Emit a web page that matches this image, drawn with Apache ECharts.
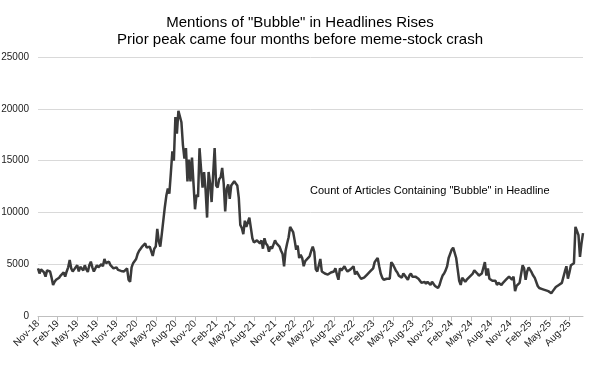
<!DOCTYPE html>
<html>
<head>
<meta charset="utf-8">
<script src="https://cdn.jsdelivr.net/npm/echarts@6/dist/echarts.min.js"></script>
<style>
html,body{margin:0;padding:0;background:#fff;}
#chart{width:600px;height:384px;}
</style>
</head>
<body>
<div id="chart"></div>
<script>
// Weekly counts of articles containing "Bubble" in headline, starting week of 2018-11-04
const startYear = 2018, startMonth = 10, startDay = 4;
const counts = [
  4600,4100,4500,4600,4200,3800,4400,4400,4300,3700,3000,3300,3500,
  3650,3700,3900,3750,4200,3800,4300,4700,5400,4600,4300,4500,4700,
  4900,4300,4750,4600,4400,4900,4500,4250,4900,5250,4700,4300,4600,
  4900,4700,4600,5000,4800,5500,5100,5100,5250,4900,4800,4600,4750,
  4700,4450,4500,4350,4450,4300,4250,4600,3500,3300,4700,5100,5200,
  5500,6000,6300,6500,6700,6800,7000,6600,6500,6700,6600,5800,6500,
  6700,8400,7200,6700,7900,8000,10500,11600,12300,11800,13800,15900,15000,
  19200,17600,19800,19900,18700,16500,15200,16200,13000,15100,13000,15300,12800,
  10300,11700,11500,16200,14200,12400,13900,12200,9500,13900,12800,11000,10900,
  16200,12600,12400,13200,13400,14300,12800,10100,12300,12700,11300,12600,12700,
  13000,12800,12600,11400,8800,8500,7900,9200,8600,8500,9500,8500,7500,
  7100,7000,7300,7200,7000,7300,6500,7500,7000,6800,6200,6700,6500,
  6400,7300,7000,7000,6700,6300,6000,4800,6300,7000,7600,8600,8500,
  8100,7300,6400,6800,5600,5900,5600,4800,5300,5200,5600,5800,6300,
  6700,6200,4500,4300,4400,5500,4300,4200,4100,4000,4000,4100,4200,
  4300,4300,4600,4000,3500,4600,4400,4300,4800,4500,4300,4400,4500,
  4600,4800,4000,4300,4200,3800,3600,3500,3700,3800,4000,4100,4300,
  4400,4600,5200,5400,5600,4800,4100,3700,3500,3600,3600,3500,3600,
  5200,5000,4700,4400,4200,3900,4000,3700,4100,3900,3700,3500,3900,
  4100,3800,3700,3800,3700,3600,3700,3200,3300,3300,3100,3300,3400,
  3000,3300,3300,2900,2800,2700,3000,3500,3900,4100,4400,4800,5600,
  6000,6400,6600,6600,5600,4500,3400,3000,3700,3600,3300,3500,3600,
  3800,3900,4100,4400,4300,4100,3900,4000,4100,4100,5200,3900,4600,
  3600,3500,3400,3300,3400,3000,3200,3100,3000,3200,3300,3500,3600,
  3800,3700,3500,3800,2400,2900,3000,3200,3300,4900,4600,3500,4300,
  4700,4700,4200,3900,3700,3600,2900,2700,2700,2600,2700,2500,2500,
  2400,2300,2200,2400,2500,2800,2900,3000,3100,3200,3300,4300,4800,
  3600,4200,4900,5000,5100,8600,8200,7800,5700,7000,8000
];
const tickLabels = ['Nov-18','Feb-19','May-19','Aug-19','Nov-19','Feb-20','May-20','Aug-20','Nov-20',
  'Feb-21','May-21','Aug-21','Nov-21','Feb-22','May-22','Aug-22','Nov-22','Feb-23','May-23','Aug-23',
  'Nov-23','Feb-24','May-24','Aug-24','Nov-24','Feb-25','May-25','Aug-25'];
const yTicks = [0, 5000, 10000, 15000, 20000, 25000];
const monthNames = ['Jan','Feb','Mar','Apr','May','Jun','Jul','Aug','Sep','Oct','Nov','Dec'];

const weekDates = counts.map((_, i) => new Date(Date.UTC(startYear, startMonth, startDay + 7 * i)));
const categories = weekDates.map(d => d.toISOString().slice(0, 10));
function monthLabel(d) { return monthNames[d.getUTCMonth()] + '-' + String(d.getUTCFullYear()).slice(2); }
function isQuarterTick(index) {
  const d = weekDates[index];
  return d.getUTCDate() <= 7 && tickLabels.indexOf(monthLabel(d)) >= 0;
}

const FONT = '"Liberation Sans", Arial, sans-serif';
const chart = echarts.init(document.getElementById('chart'), null, {renderer: 'canvas'});
chart.setOption({
  animation: false,
  backgroundColor: '#ffffff',
  textStyle: {fontFamily: FONT},
  title: [{
    text: 'Mentions of "Bubble" in Headlines Rises\nPrior peak came four months before meme-stock crash',
    left: 'center',
    top: 9,
    textStyle: {fontSize: 15, fontWeight: 'normal', color: '#000', lineHeight: 17, fontFamily: FONT}
  }, {
    text: 'Count of Articles Containing "Bubble" in Headline',
    left: 305,
    top: 180,
    textStyle: {fontSize: 11, fontWeight: 'normal', color: '#000', fontFamily: FONT}
  }],
  grid: {left: 38, right: 17, top: 57, bottom: 68, containLabel: false, outerBoundsMode: 'none'},
  xAxis: {
    type: 'category',
    data: categories,
    boundaryGap: false,
    axisLine: {lineStyle: {color: '#bfbfbf', width: 1}},
    axisTick: {show: true, interval: isQuarterTick, length: 5, lineStyle: {color: '#bfbfbf'}},
    axisLabel: {
      interval: isQuarterTick,
      rotate: 45,
      fontSize: 10,
      color: '#222',
      margin: 6,
      formatter: (v) => monthLabel(new Date(v + 'T00:00:00Z'))
    },
    splitLine: {show: false}
  },
  yAxis: {
    type: 'value',
    min: yTicks[0],
    max: yTicks[yTicks.length - 1],
    interval: 5000,
    axisLine: {show: false},
    axisTick: {show: false},
    axisLabel: {fontSize: 10, color: '#222', margin: 9, formatter: (v) => String(v)},
    splitLine: {lineStyle: {color: '#d9d9d9', width: 1}}
  },
  series: [{
    type: 'line',
    data: counts,
    showSymbol: false,
    symbol: 'none',
    lineStyle: {color: '#3a3a3a', width: 2.5},
    itemStyle: {color: '#3a3a3a'}
  }]
});
</script>
</body>
</html>
